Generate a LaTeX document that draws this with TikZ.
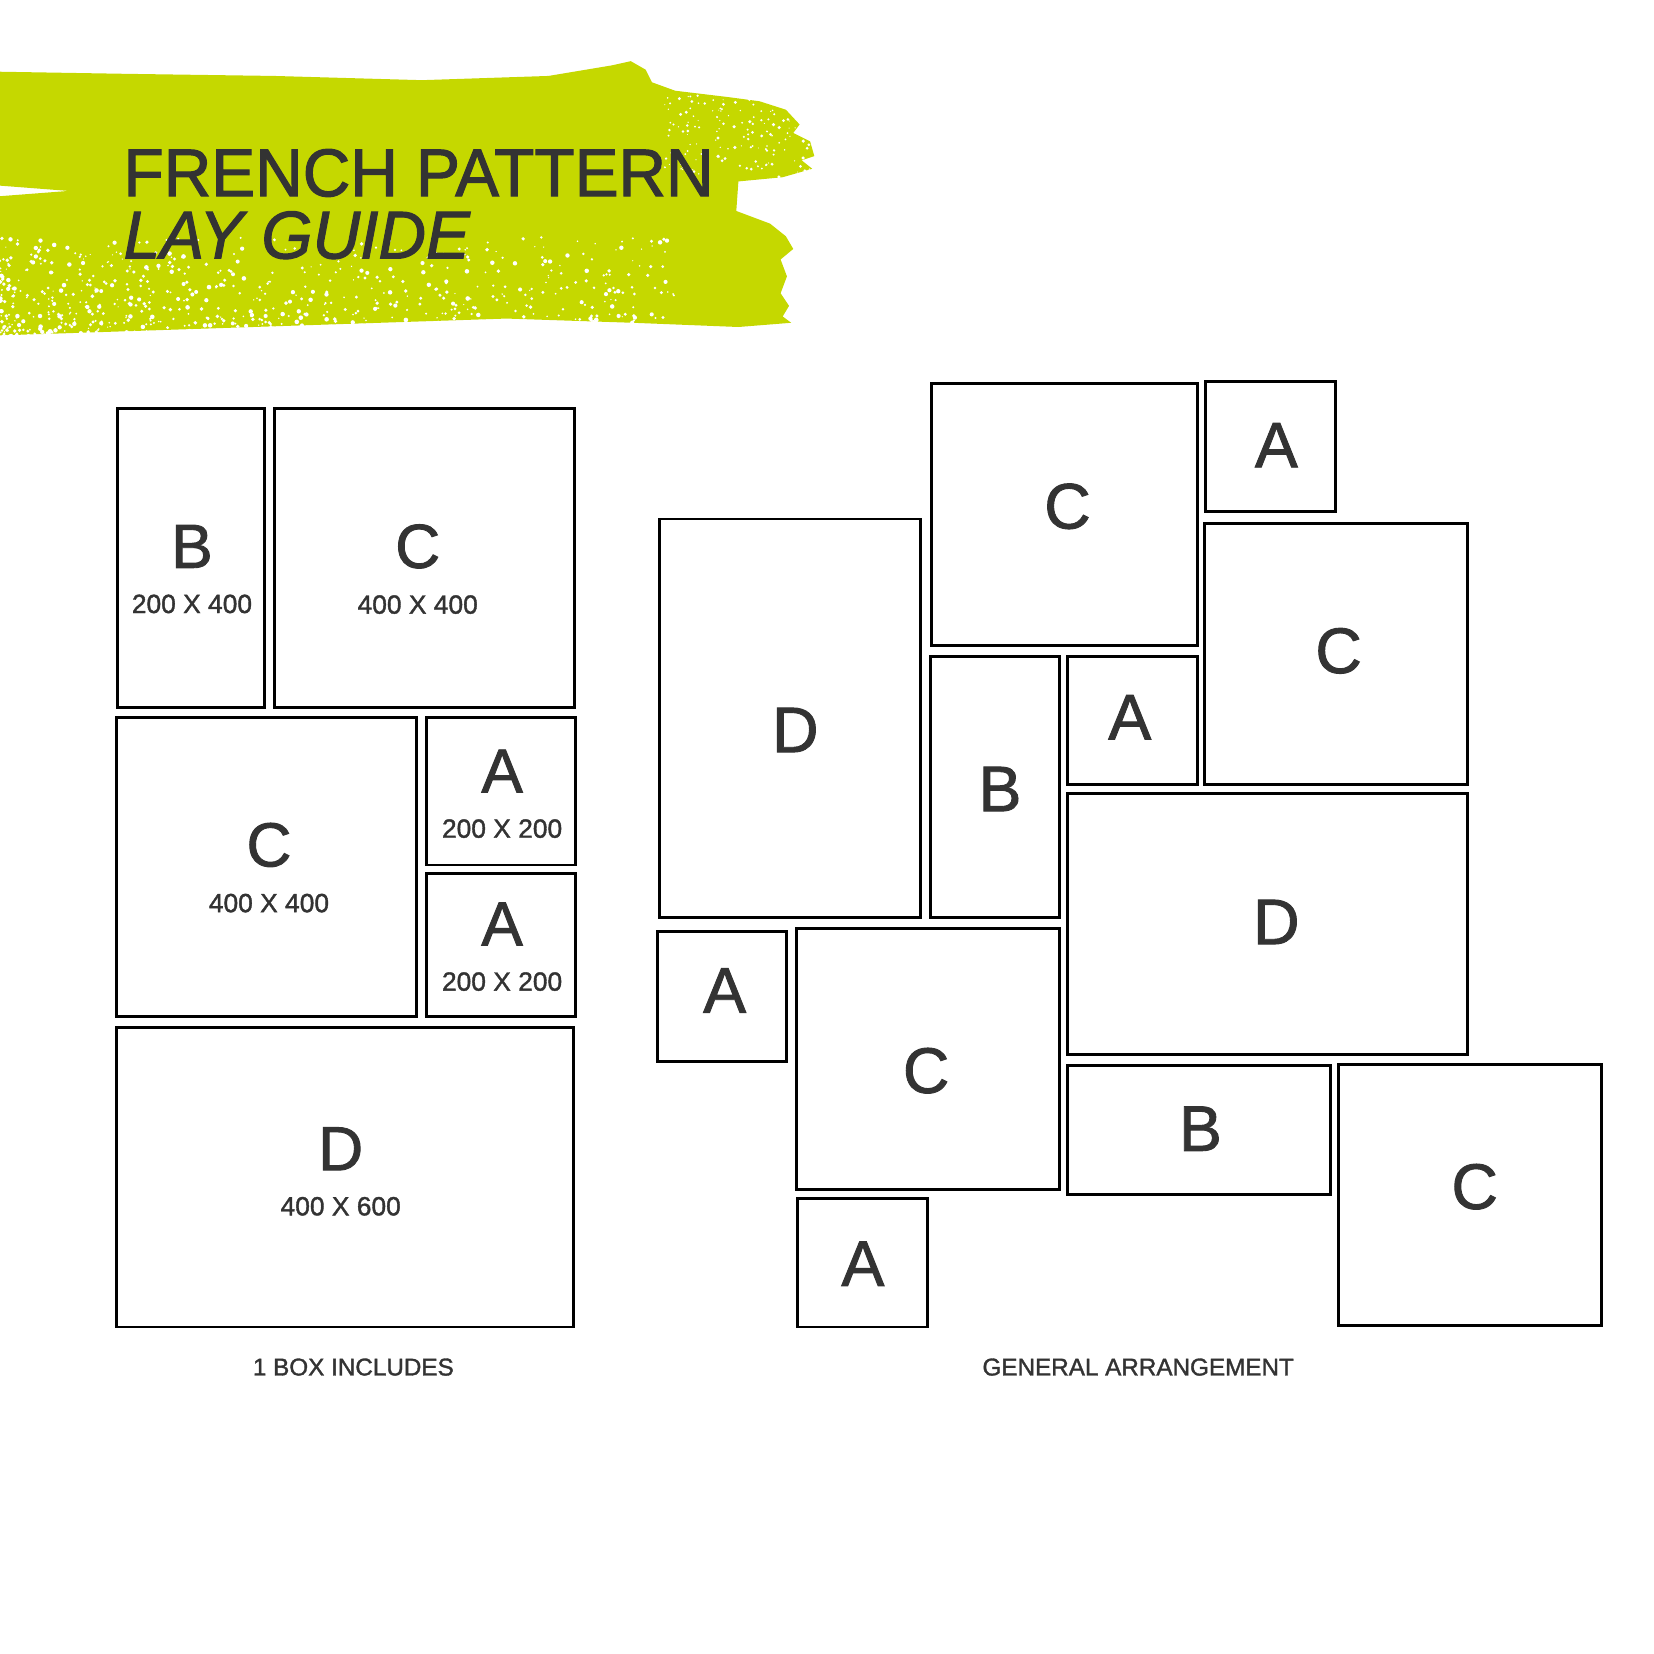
\documentclass[tikz,border=0pt]{standalone}
\usepackage{fontspec}
\setmainfont{Liberation Sans}
\newfontfamily\titlefont[FakeStretch=0.975,FakeBold=1.6]{Liberation Sans}
\newfontfamily\midfont[FakeBold=1.4]{Liberation Sans}
\usetikzlibrary{positioning}
\definecolor{ink}{HTML}{333333}
\definecolor{lime}{HTML}{C5D800}
\tikzset{
  tile/.style={draw=black, line width=2.8pt, inner sep=0pt},
  bigletter/.style={text=ink, inner sep=0pt, font=\midfont\fontsize{59}{59}\selectfont},
  layletter/.style={text=ink, inner sep=0pt, font=\midfont\fontsize{61}{61}\selectfont},
  dims/.style={text=ink, inner sep=0pt, font=\midfont\fontsize{25}{25}\selectfont},
  caption/.style={text=ink, inner sep=0pt, font=\midfont\fontsize{23}{23}\selectfont},
}
\begin{document}
\begin{tikzpicture}[x=1pt,y=-1pt]
  \useasboundingbox (0,0) rectangle (1568,1568);
  % brush stroke behind the title
  \fill[lime] (0,68) -- (120,70) -- (260,72) -- (400,76) -- (520,72) -- (580,62)
    -- (598,58) -- (612,66) -- (618,78) -- (640,86) -- (690,92) -- (720,96)
    -- (745,104) -- (758,118) -- (752,126) -- (768,134) -- (772,148) -- (760,152)
    -- (770,160) -- (742,168) -- (700,172) -- (698,200) -- (730,212) -- (745,224)
    -- (752,236) -- (740,246) -- (746,262) -- (740,278) -- (748,290) -- (742,300)
    -- (750,306) -- (700,310) -- (600,306) -- (480,302) -- (360,306) -- (240,310)
    -- (120,314) -- (0,318) -- (0,186) -- (65,181) -- (0,176) -- cycle;
  \pgfmathsetseed{11}
  \foreach \i in {1,...,900}{
    \pgfmathsetmacro\px{640*rnd^1.4}
    \pgfmathsetmacro\py{320-95*rnd^2}
    \fill[white] (\px,\py) circle ({0.6pt+1.6pt*rnd});
  }
  \foreach \i in {1,...,160}{
    \pgfmathsetmacro\px{630+140*rnd}
    \pgfmathsetmacro\py{88+80*rnd}
    \fill[white] (\px,\py) circle ({0.5pt+1.2pt*rnd});
  }
  \node[text=ink, inner sep=0pt, anchor=base west, font=\titlefont\fontsize{64}{64}\selectfont] (title1) at (117,186) {FRENCH PATTERN};
  \node[text=ink, inner sep=0pt, anchor=base west, font=\titlefont\itshape\fontsize{64}{64}\selectfont] (title2) at (117,245) {LAY GUIDE};

  % one box
  \node[tile, minimum width=140, minimum height=284] (lb) at (181,529) {};
  \node[tile, minimum width=285, minimum height=284] (lc1) at (402.5,529) {};
  \node[tile, minimum width=285, minimum height=284] (lc2) at (252.5,822) {};
  \node[tile, minimum width=142, minimum height=140] (la1) at (475,750) {};
  \node[tile, minimum width=142, minimum height=136] (la2) at (475,896) {};
  \node[tile, minimum width=434, minimum height=284] (ld) at (327,1116) {};

  \node[bigletter] (lbL) at (182,518) {B};
  \node[dims, below=25pt of lbL] (lbS) {200 X 400};
  \node[bigletter] (lc1L) at (396,518) {C};
  \node[dims, below=25pt of lc1L] (lc1S) {400 X 400};
  \node[bigletter] (lc2L) at (255,801) {C};
  \node[dims, below=25pt of lc2L] (lc2S) {400 X 400};
  \node[bigletter] (la1L) at (476,731) {A};
  \node[dims, below=25pt of la1L] (la1S) {200 X 200};
  \node[bigletter] (la2L) at (476,876) {A};
  \node[dims, below=25pt of la2L] (la2S) {200 X 200};
  \node[bigletter] (ldL) at (323,1089) {D};
  \node[dims, below=25pt of ldL] (ldS) {400 X 600};
  \node[caption] (boxcap) at (335,1296) {1 BOX INCLUDES};

  % arrangement
  \node[tile, minimum width=252, minimum height=248] (rc1) at (1009,488) {};
  \node[tile, minimum width=123, minimum height=123] (ra1) at (1204.5,423.5) {};
  \node[tile, minimum width=248, minimum height=378] (rd1) at (749,681) {};
  \node[tile, minimum width=122, minimum height=248] (rb1) at (943,746) {};
  \node[tile, minimum width=123, minimum height=122] (ra2) at (1073.5,683) {};
  \node[tile, minimum width=249, minimum height=248] (rc2) at (1266.5,620) {};
  \node[tile, minimum width=379, minimum height=248] (rd2) at (1201.5,876) {};
  \node[tile, minimum width=123, minimum height=123] (ra3) at (684.5,944.5) {};
  \node[tile, minimum width=249, minimum height=248] (rc3) at (879.5,1004) {};
  \node[tile, minimum width=249, minimum height=122] (rb2) at (1136.5,1071) {};
  \node[tile, minimum width=249, minimum height=248] (rc4) at (1393.5,1133) {};
  \node[tile, minimum width=123, minimum height=122] (ra4) at (817.5,1197) {};

  \node[layletter] (rc1L) at (1012,480) {C};
  \node[layletter] (ra1L) at (1210,422) {A};
  \node[layletter] (rd1L) at (754,692) {D};
  \node[layletter] (rb1L) at (948,748) {B};
  \node[layletter] (ra2L) at (1071,680) {A};
  \node[layletter] (rc2L) at (1269,617) {C};
  \node[layletter] (rd2L) at (1210,874) {D};
  \node[layletter] (ra3L) at (687,939) {A};
  \node[layletter] (rc3L) at (878,1015) {C};
  \node[layletter] (rb2L) at (1138,1070) {B};
  \node[layletter] (rc4L) at (1398,1125) {C};
  \node[layletter] (ra4L) at (818,1198) {A};
  \node[caption] (laycap) at (1079,1296) {GENERAL ARRANGEMENT};
\end{tikzpicture}
\end{document}
